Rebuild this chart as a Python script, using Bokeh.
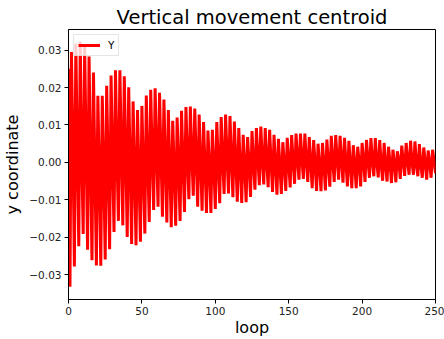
from bokeh.plotting import figure
from bokeh.models import Range1d, FixedTicker, ColumnDataSource
from bokeh.embed import file_html
from bokeh.resources import INLINE

# ---- data ----
# in-between samples at loops 0,3,6,...,249
mids = [0.025, 0.005, 0.003, 0.002, 0.004, 0.001, -0.002, -0.003, -0.002, -0.001, 0.001,
        0.002, 0.003, 0.002, 0.000, -0.002, -0.003, -0.002, 0.000, 0.002, 0.003,
        0.002, 0.000, -0.001, -0.002, -0.001, 0.000, 0.001, 0.002, 0.001, 0.000,
        -0.001, -0.0015, -0.001, 0.000, 0.001, 0.0015, 0.001, 0.000, -0.001, -0.001,
        -0.0005, 0.000, 0.001, 0.001, 0.0005, 0.000, -0.0005, -0.001, -0.0005, 0.000,
        0.0005, 0.001, 0.001, 0.0005, 0.000, -0.0005, -0.001, -0.0005, 0.000, 0.0005,
        0.001, 0.0005, 0.000, -0.0005, -0.0005, 0.000, 0.0005, 0.0005, 0.0005, 0.000,
        -0.0005, -0.0005, 0.000, 0.000, 0.0005, 0.0005, 0.0005, 0.000, -0.0005, -0.0005,
        0.000, 0.000, 0.0005]
# troughs at loops 1,4,7,...,250
lows = [-0.0332, -0.0278, -0.0224, -0.0191, -0.0233, -0.0261, -0.0275, -0.0276, -0.0259, -0.0232,
        -0.0186, -0.0156, -0.0168, -0.0199, -0.0218, -0.0221, -0.0212, -0.0190, -0.0159, -0.0127,
        -0.0118, -0.0145, -0.0160, -0.0173, -0.0169, -0.0156, -0.0132, -0.0098, -0.0089, -0.0118,
        -0.0129, -0.0135, -0.0135, -0.0124, -0.0109, -0.0084, -0.0083, -0.0093, -0.0105, -0.0108,
        -0.0106, -0.0092, -0.0073, -0.0061, -0.0059, -0.0066, -0.0079, -0.0086, -0.0084, -0.0076,
        -0.0067, -0.0057, -0.0046, -0.0044, -0.0052, -0.0069, -0.0076, -0.0077, -0.0075, -0.0065,
        -0.0052, -0.0046, -0.0054, -0.0064, -0.0069, -0.0069, -0.0064, -0.0052, -0.0041, -0.0037,
        -0.0040, -0.0049, -0.0051, -0.0055, -0.0053, -0.0044, -0.0036, -0.0033, -0.0033, -0.0037,
        -0.0041, -0.0046, -0.0041, -0.0029]
# peaks at loops 2,5,8,...,248
highs = [0.0295, 0.0317, 0.0322, 0.0312, 0.0283, 0.0240, 0.0178, 0.0178, 0.0205, 0.0232,
         0.0246, 0.0246, 0.0230, 0.0201, 0.0163, 0.0140, 0.0151, 0.0179, 0.0194, 0.0198,
         0.0186, 0.0168, 0.0140, 0.0111, 0.0120, 0.0138, 0.0148, 0.0149, 0.0144, 0.0128,
         0.0108, 0.0085, 0.0087, 0.0108, 0.0121, 0.0128, 0.0124, 0.0109, 0.0092, 0.0074,
         0.0068, 0.0084, 0.0092, 0.0096, 0.0092, 0.0087, 0.0074, 0.0063, 0.0054, 0.0066,
         0.0073, 0.0077, 0.0077, 0.0077, 0.0068, 0.0060, 0.0050, 0.0052, 0.0061, 0.0071,
         0.0073, 0.0071, 0.0066, 0.0058, 0.0046, 0.0042, 0.0052, 0.0060, 0.0065, 0.0065,
         0.0060, 0.0052, 0.0042, 0.0034, 0.0030, 0.0045, 0.0052, 0.0058, 0.0056, 0.0049,
         0.0040, 0.0032, 0.0034]

x_ticks = [0, 50, 100, 150, 200, 250]
y_ticks = [-0.03, -0.02, -0.01, 0.0, 0.01, 0.02, 0.03]
y_tick_labels = ["\u22120.03", "\u22120.02", "\u22120.01", "0.00", "0.01", "0.02", "0.03"]

loops = list(range(251))
ys = []
for i in loops:
    k, r = divmod(i, 3)
    ys.append(mids[k] if r == 0 else (lows[k] if r == 1 else highs[k]))

src = ColumnDataSource(dict(loop=loops, y=ys))

FONT = "DejaVu Sans"
p = figure(width=444, height=339, output_backend="svg", toolbar_location=None,
           x_range=Range1d(0, 250), y_range=Range1d(-0.0366, 0.0355),
           min_border_left=67, min_border_right=9, min_border_top=29, min_border_bottom=39)

p.line("loop", "y", source=src, line_color="#ff0000", line_width=3, legend_label="Y")

p.title.text = "Vertical movement centroid"
p.title.align = "center"
p.title.text_font = FONT
p.title.text_font_size = "19.5px"
p.title.text_font_style = "normal"
p.title.text_color = "#000000"
p.title.standoff = 1

p.xgrid.visible = False
p.ygrid.visible = False
p.outline_line_color = "#000000"
p.outline_line_width = 1
p.background_fill_color = "white"
p.border_fill_color = "white"

p.xaxis.ticker = FixedTicker(ticks=x_ticks)
p.yaxis.ticker = FixedTicker(ticks=y_ticks)
p.yaxis.major_label_overrides = {v: s for v, s in zip(y_ticks, y_tick_labels)}
p.xaxis.axis_label = "loop"
p.yaxis.axis_label = "y coordinate"
for ax in (p.xaxis, p.yaxis):
    ax.axis_label_text_font = FONT
    ax.axis_label_text_font_size = "16px"
    ax.axis_label_text_font_style = "normal"
    ax.axis_label_text_color = "#000000"
    ax.major_label_text_font = FONT
    ax.major_label_text_font_size = "10.5px"
    ax.major_label_text_color = "#222222"
    ax.major_tick_out = 4
    ax.major_tick_in = 0
    ax.minor_tick_out = 0
    ax.minor_tick_in = 0
    ax.axis_line_color = "#000000"
    ax.major_tick_line_color = "#000000"
p.xaxis.major_label_standoff = 3
p.xaxis.axis_label_standoff = 0
p.yaxis.major_label_standoff = 3
p.yaxis.axis_label_standoff = 4

lg = p.legend[0]
lg.location = "top_left"
lg.margin = 5
lg.padding = 4
lg.spacing = 0
lg.glyph_width = 22
lg.glyph_height = 10
lg.label_width = 6
lg.label_height = 11
lg.label_standoff = 8
lg.label_text_font = FONT
lg.label_text_font_size = "10.5px"
lg.label_text_color = "#000000"
lg.border_line_color = "#cccccc"
lg.border_line_width = 1
lg.background_fill_alpha = 0.8

open("out.html", "w").write(file_html(p, INLINE))
